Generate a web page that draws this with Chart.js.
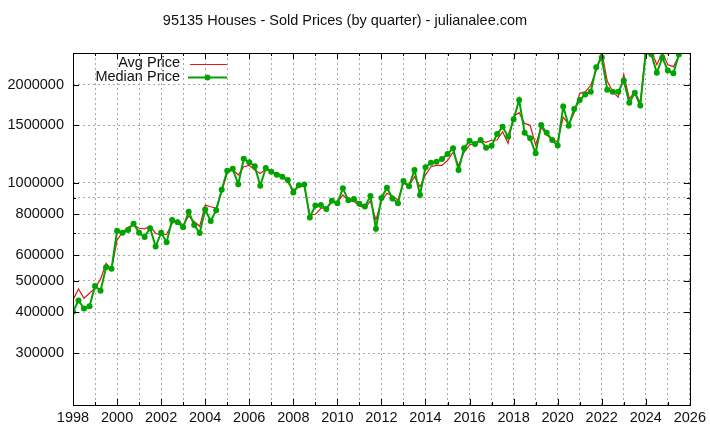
<!DOCTYPE html>
<html>
<head>
<meta charset="utf-8">
<script src="https://cdn.jsdelivr.net/npm/chart.js@4/dist/chart.umd.min.js"></script>
<style>
  html, body { margin: 0; padding: 0; background: #fff; }
  #wrap { width: 710px; height: 425px; }
</style>
</head>
<body>
<div id="wrap"><canvas id="chart" width="710" height="425"></canvas></div>
<script>
const title = "95135 Houses - Sold Prices (by quarter) - julianalee.com";
const startYear = 1998;

// quarterly values (1998 Q1 .. 2025 Q3)
const avgPrice = [
  437000, 472000, 442000, 458000, 475000, 506000, 566000, 543000,
  667000, 705000, 730000, 743000, 725000, 722000, 735000, 700000,
  690000, 695000, 750000, 770000, 740000, 790000, 760000, 735000,
  854000, 844000, 835000, 940000, 1070000, 1100000, 1056000, 1120000,
  1130000, 1094000, 1068000, 1100000, 1080000, 1066000, 1050000, 1000000,
  950000, 975000, 975000, 796000, 800000, 835000, 835000, 870000,
  870000, 917000, 883000, 875000, 850000, 835000, 880000, 769000,
  880000, 928000, 910000, 885000, 996000, 975000, 1043000, 972000,
  1056000, 1120000, 1130000, 1130000, 1170000, 1240000, 1130000, 1240000,
  1305000, 1320000, 1345000, 1330000, 1350000, 1352000, 1433000, 1320000,
  1600000, 1640000, 1520000, 1500000, 1305000, 1480000, 1400000, 1360000,
  1335000, 1590000, 1510000, 1640000, 1880000, 1900000, 1990000, 2210000,
  2520000, 2050000, 1900000, 1830000, 2150000, 1810000, 1900000, 1760000,
  2550000, 2550000, 2300000, 2500000, 2300000, 2270000, 2450000
];

const medianPrice = [
  402000, 435000, 411000, 418000, 482000, 466000, 550000, 545000,
  712000, 702000, 716000, 749000, 702000, 682000, 725000, 637000,
  702000, 657000, 769000, 756000, 730000, 815000, 742000, 701000,
  827000, 763000, 823000, 952000, 1088000, 1103000, 989000, 1185000,
  1155000, 1123000, 979000, 1109000, 1081000, 1058000, 1043000, 1019000,
  934000, 982000, 987000, 782000, 852000, 854000, 831000, 880000,
  865000, 961000, 883000, 891000, 862000, 846000, 910000, 723000,
  898000, 965000, 894000, 865000, 1013000, 975000, 1094000, 917000,
  1115000, 1152000, 1160000, 1182000, 1224000, 1275000, 1094000, 1275000,
  1345000, 1314000, 1352000, 1280000, 1298000, 1410000, 1485000, 1383000,
  1566000, 1793000, 1423000, 1368000, 1231000, 1503000, 1423000, 1352000,
  1300000, 1714000, 1496000, 1683000, 1793000, 1866000, 1901000, 2260000,
  2420000, 1928000, 1901000, 1901000, 2060000, 1759000, 1888000, 1726000,
  2520000, 2480000, 2174000, 2420000, 2210000, 2165000, 2475000
];

const yearLabels = [1998, 2000, 2002, 2004, 2006, 2008, 2010, 2012, 2014, 2016, 2018, 2020, 2022, 2024, 2026];
const priceGrid = [300000, 400000, 500000, 600000, 700000, 800000, 900000, 1000000, 1500000, 2000000];
const priceLabels = [300000, 400000, 500000, 600000, 800000, 1000000, 1500000, 2000000];

const FONT = '"Liberation Sans", Arial, sans-serif';
const RED = "#e01818";
const GREEN = "#00a400";

const gridYears = [];
for (let y = yearLabels[0]; y <= yearLabels[yearLabels.length - 1]; y++) gridYears.push(y);

const toPoints = (arr) => arr.map((v, i) => ({ x: startYear + i / 4, y: v }));

// gnuplot look: border, inward tick marks, title and key
const gnuplotFrame = {
  id: "gnuplotFrame",
  afterDatasetsDraw(chart) {
    const { ctx, chartArea: a, scales } = chart;
    ctx.save();
    ctx.strokeStyle = "#000";
    ctx.lineWidth = 1;
    ctx.beginPath();
    gridYears.forEach((yr) => {
      const x = Math.round(scales.x.getPixelForValue(yr)) + 0.5;
      const len = yearLabels.includes(yr) ? 6 : 3;
      ctx.moveTo(x, a.bottom); ctx.lineTo(x, a.bottom - len);
      ctx.moveTo(x, a.top); ctx.lineTo(x, a.top + len);
    });
    priceGrid.forEach((v) => {
      const y = Math.round(scales.y.getPixelForValue(v)) + 0.5;
      const len = priceLabels.includes(v) ? 6 : 3;
      ctx.moveTo(a.left, y); ctx.lineTo(a.left + len, y);
      ctx.moveTo(a.right, y); ctx.lineTo(a.right - len, y);
    });
    ctx.stroke();
    ctx.strokeRect(Math.round(a.left) + 0.5, Math.round(a.top) + 0.5,
      Math.round(a.right - a.left), Math.round(a.bottom - a.top));
    ctx.restore();
  },
  afterDraw(chart) {
    const ctx = chart.ctx;
    ctx.save();
    ctx.fillStyle = "#111";
    ctx.font = "14.5px " + FONT;
    ctx.textBaseline = "middle";
    ctx.textAlign = "center";
    ctx.fillText(title, 345, 20.5);

    ctx.textAlign = "right";
    ctx.fillText("Avg Price", 180, 63);
    ctx.fillText("Median Price", 180, 76.5);

    ctx.strokeStyle = RED;
    ctx.lineWidth = 1.2;
    ctx.beginPath();
    ctx.moveTo(190, 64.5); ctx.lineTo(227, 64.5);
    ctx.stroke();

    ctx.strokeStyle = GREEN;
    ctx.lineWidth = 2;
    ctx.beginPath();
    ctx.moveTo(188, 77.5); ctx.lineTo(227, 77.5);
    ctx.stroke();
    ctx.fillStyle = GREEN;
    ctx.beginPath();
    ctx.arc(207.5, 77.5, 3, 0, Math.PI * 2);
    ctx.fill();
    ctx.restore();
  },
};

new Chart(document.getElementById("chart").getContext("2d"), {
  type: "line",
  data: {
    datasets: [
      {
        label: "Avg Price",
        data: toPoints(avgPrice),
        borderColor: RED,
        borderWidth: 1.2,
        pointRadius: 0,
        tension: 0,
        order: 2,
      },
      {
        label: "Median Price",
        data: toPoints(medianPrice),
        borderColor: GREEN,
        backgroundColor: GREEN,
        borderWidth: 2,
        pointRadius: 3,
        pointBorderWidth: 0,
        pointBackgroundColor: GREEN,
        tension: 0,
        order: 1,
      },
    ],
  },
  options: {
    responsive: false,
    animation: false,
    layout: { padding: { top: 53, right: 17, left: 0, bottom: 0 } },
    plugins: {
      legend: { display: false },
      title: { display: false },
      tooltip: { enabled: false },
    },
    scales: {
      x: {
        type: "linear",
        min: 1998,
        max: 2026,
        afterBuildTicks: (s) => { s.ticks = gridYears.map((v) => ({ value: v })); },
        afterFit: (s) => { s.height = 20; },
        grid: { color: "#a8a8a8", lineWidth: 1, drawTicks: false },
        border: { display: false, dash: [2, 3] },
        ticks: {
          autoSkip: false,
          maxRotation: 0,
          padding: 4,
          color: "#111",
          font: { family: FONT, size: 14.5 },
          callback: (v) => (yearLabels.includes(v) ? String(v) : ""),
        },
      },
      y: {
        type: "logarithmic",
        min: 208000,
        max: 2500000,
        afterBuildTicks: (s) => { s.ticks = priceGrid.map((v) => ({ value: v })); },
        afterFit: (s) => { s.width = 73; },
        grid: { color: "#a8a8a8", lineWidth: 1, drawTicks: false },
        border: { display: false, dash: [2, 3] },
        ticks: {
          autoSkip: false,
          padding: 9,
          color: "#111",
          font: { family: FONT, size: 14.5 },
          callback: (v) => (priceLabels.includes(v) ? String(v) : ""),
        },
      },
    },
  },
  plugins: [gnuplotFrame],
});
</script>
</body>
</html>
